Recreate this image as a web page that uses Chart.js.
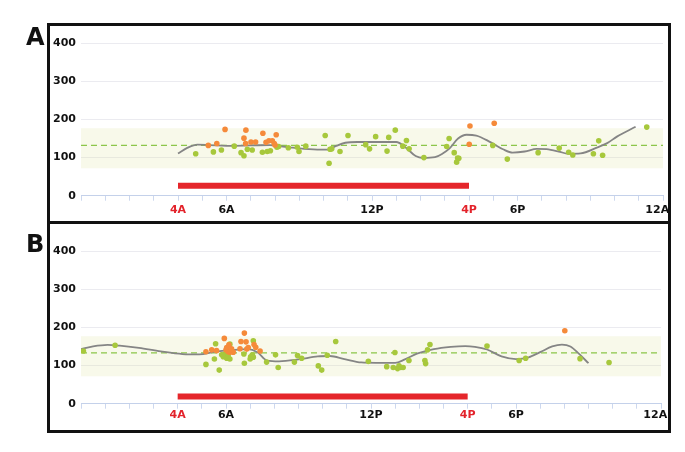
<!DOCTYPE html>
<html><head><meta charset="utf-8">
<script src="https://cdn.jsdelivr.net/npm/chart.js@4.4.1/dist/chart.umd.min.js"></script>
<style>
html,body{margin:0;padding:0;background:#fff;width:685px;height:452px;overflow:hidden;}
.panel{position:absolute;border:3px solid #111;box-sizing:border-box;z-index:2;pointer-events:none;}
.cw{position:absolute;z-index:1;}
.lbl{position:absolute;font:bold 24px "DejaVu Sans",sans-serif;color:#111;line-height:1;z-index:3;}
</style></head><body>
<div class="panel" style="left:47px;top:23px;width:624px;height:201px"></div>
<div class="panel" style="left:47px;top:221px;width:624px;height:212px"></div>
<div class="lbl" style="left:26px;top:25px">A</div>
<div class="lbl" style="left:26px;top:232px">B</div>
<div class="cw" style="left:50px;top:26px;"><canvas id="cA" width="621" height="196"></canvas></div>
<div class="cw" style="left:50px;top:224px;"><canvas id="cB" width="619" height="208"></canvas></div>
<script>
// ---- tick labels (hours of day, 0..24) ----
const tickHours = [4, 6, 12, 16, 18, 24];
const tickLabels = ['4A', '6A', '12P', '4P', '6P', '12A'];
const redTickHours = [4, 16];

// ---- target band / lines (mg/dL) ----
const bandLow = 72;
const bandHigh = 177;
const targetA = 132;
const targetB = 133;
const fastStart = 4;
const fastEnd = 16;
const barLevelA = 26;
const barLevelB = 19;

// ---- Panel A ----
const aGreenX = [4.73,5.46,5.79,6.32,6.6,6.72,6.86,7.06,7.48,7.68,7.81,8.08,8.15,8.55,8.92,8.99,9.27,10.07,10.23,10.27,10.34,10.68,11.01,11.74,11.9,12.15,12.62,12.69,12.96,13.27,13.42,13.53,14.14,15.08,15.18,15.39,15.53,15.58,15.49,16.98,17.58,18.85,19.72,20.11,20.28,21.13,21.35,21.51,23.33];
const aGreenY = [110,115,120,130,113,105,122,120,114,116,118,127,129,126,127,116,130,158,85,122,123,116,158,134,123,155,117,153,172,130,145,123,100,129,150,113,99,98,88,132,96,113,125,114,107,110,144,106,180];
const aOrangeX = [5.25,5.6,5.94,6.72,6.79,6.8,7.01,7.2,7.5,7.63,7.75,7.89,7.97,8.05,8.0,16.04,16.01,17.04];
const aOrangeY = [132,137,174,151,137,172,141,141,164,140,144,144,137,160,133,183,135,190];
const aTrendX = [4.0,4.4,4.8,5.3,6.0,7.0,7.8,8.2,8.6,9.2,9.9,10.2,10.5,10.9,11.4,12.3,13.0,13.4,13.8,14.1,14.6,14.9,15.2,15.55,15.9,16.3,16.9,17.4,17.8,18.3,18.8,19.2,19.7,20.1,20.6,21.3,21.7,22.1,22.87];
const aTrendY = [111,126,134,133,131,132,133,130,127,123,121,121,130,139,141,141,141,126,104,99,101,110,124,150,160,158,140,122,113,116,123,122,116,110,111,127,138,155,181];

// ---- Panel B ----
const bGreenX = [0.1,1.41,5.17,5.52,5.57,5.72,5.82,5.89,5.99,6.03,6.09,6.16,6.16,6.74,6.76,7.0,7.02,7.09,7.13,7.13,7.68,8.05,8.16,8.83,8.96,9.13,9.82,9.96,10.19,10.54,11.89,12.65,12.92,12.99,13.1,13.16,13.23,13.33,13.57,14.23,14.26,14.34,14.44,16.8,18.13,18.4,20.65,21.85];
const bGreenY = [138,153,103,117,157,88,128,123,132,119,125,117,156,130,106,117,123,128,122,165,109,128,95,109,126,119,99,88,127,163,111,97,95,134,92,99,95,95,113,113,105,141,155,151,113,119,118,108];
const bOrangeX = [5.17,5.41,5.61,5.93,6.0,6.03,6.12,6.16,6.09,6.3,6.23,6.58,6.62,6.76,6.83,6.86,6.92,7.16,7.23,7.41,20.02];
const bOrangeY = [136,141,139,171,141,147,154,135,136,135,144,144,163,185,162,143,147,155,148,138,191];
const bTrendX = [0,0.5,1.1,1.6,2.4,3.3,4.2,4.9,5.5,6.3,6.9,7.3,7.7,8.2,9.0,9.8,10.3,10.9,11.6,12.2,13.0,13.4,13.9,14.6,15.3,15.9,16.3,16.8,17.4,18.0,18.5,19.0,19.5,19.9,20.25,20.6,21.0];
const bTrendY = [143,150,154,152,146,137,130,129,136,141,143,135,113,111,116,124,125,117,108,107,107,116,131,143,149,151,149,142,124,117,121,135,150,155,150,131,106];

const FONT = '"DejaVu Sans", sans-serif';
const pts = (xs, ys) => xs.map((x, i) => ({x: x, y: ys[i]}));

function makeChart(id, g, o, t, target, barLevel, L) {
  const ctx = document.getElementById(id);
  return new Chart(ctx, {
    type: 'scatter',
    data: {
      datasets: [
        {data: pts(o[0], o[1]), backgroundColor: '#f58a3a', borderWidth: 0, pointRadius: 2.8, pointHoverRadius: 2.8},
        {data: pts(g[0], g[1]), backgroundColor: '#a7c83c', borderWidth: 0, pointRadius: 2.8, pointHoverRadius: 2.8},
        {type: 'line', data: pts(t[0], t[1]), borderColor: '#858585', borderWidth: 1.8, pointRadius: 0, cubicInterpolationMode: 'monotone', fill: false},
        {type: 'line', data: pts([0, 24], [target, target]), borderColor: '#8cc64a', borderWidth: 1.3, borderDash: [6, 4], pointRadius: 0, fill: false},
        {type: 'line', data: pts([fastStart, fastEnd], [barLevel, barLevel]), borderColor: '#e5262b', borderWidth: 6, borderCapStyle: 'butt', pointRadius: 0, fill: false},
        {type: 'line', data: pts([0, 24], [bandHigh, bandHigh]), borderWidth: 0, borderColor: 'rgba(0,0,0,0)', pointRadius: 0, fill: '+1', backgroundColor: 'rgba(222,228,160,0.22)'},
        {type: 'line', data: pts([0, 24], [bandLow, bandLow]), borderWidth: 0, borderColor: 'rgba(0,0,0,0)', pointRadius: 0, fill: false}
      ]
    },
    options: {
      responsive: false,
      animation: false,
      devicePixelRatio: 1,
      layout: {padding: {top: L.padTop, right: L.padRight, left: 0, bottom: 0}},
      plugins: {legend: {display: false}, tooltip: {enabled: false}},
      scales: {
        x: {
          type: 'linear', min: 0, max: 24,
          ticks: {
            stepSize: 1, autoSkip: false, maxRotation: 0, minRotation: 0, padding: L.xPad,
            font: {family: FONT, size: 11, weight: 'bold'},
            color: c => redTickHours.includes(c.tick.value) ? '#e3232b' : '#111',
            callback: v => {
              const i = tickHours.indexOf(v);
              if (i < 0) return '';
              return v === 24 ? tickLabels[i] + '   ' : tickLabels[i];
            }
          },
          grid: {drawOnChartArea: false, drawTicks: true, tickLength: 5, color: '#cdd8ee'},
          border: {color: '#c4d1ea', width: 1},
          afterFit: s => { s.height = L.xH; s.paddingLeft = 0; s.paddingRight = 0; }
        },
        y: {
          min: 0, max: 400,
          ticks: {stepSize: 100, padding: 5, color: '#111', font: {family: FONT, size: 11, weight: 'bold'}},
          grid: {color: '#ebebf0', drawTicks: false},
          border: {display: false},
          afterFit: s => { s.width = L.yW; }
        }
      }
    }
  });
}

makeChart('cA', [aGreenX, aGreenY], [aOrangeX, aOrangeY], [aTrendX, aTrendY], targetA, barLevelA,
  {padTop: 17.3, padRight: 8, xH: 26.3, xPad: 3, yW: 31});
makeChart('cB', [bGreenX, bGreenY], [bOrangeX, bOrangeY], [bTrendX, bTrendY], targetB, barLevelB,
  {padTop: 27, padRight: 8, xH: 28.3, xPad: 0, yW: 31});
</script>
</body></html>
